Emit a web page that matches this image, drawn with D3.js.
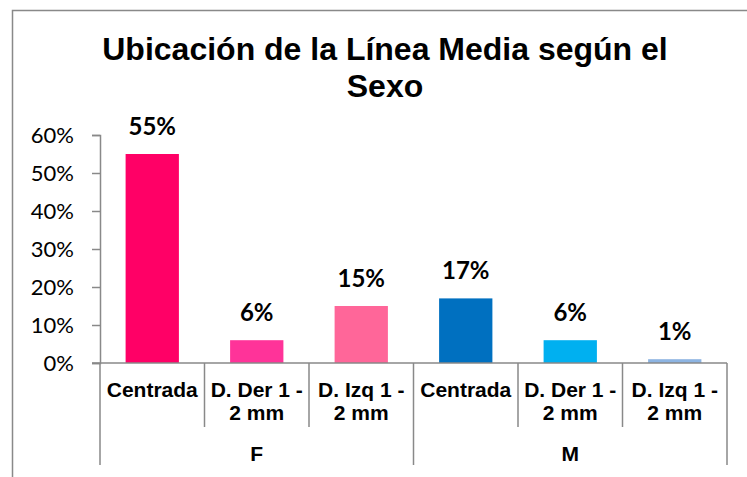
<!DOCTYPE html>
<html>
<head>
<meta charset="utf-8">
<script src="https://cdn.jsdelivr.net/npm/d3@7"></script>
<style>
  body { margin: 0; background: #fff; }
  svg { display: block; }
</style>
</head>
<body>
<svg width="747" height="477"></svg>
<script>
const groups = ['F', 'M'];
const categories = ['Centrada', 'D. Der 1 - 2 mm', 'D. Izq 1 - 2 mm'];
const categoryLines = [['Centrada'], ['D. Der 1 -', '2 mm'], ['D. Izq 1 -', '2 mm']];
const valuesF = [0.55, 0.06, 0.15];
const valuesM = [0.17, 0.06, 0.01];
const colorsF = ['#ff0066', '#ff3399', '#ff6699'];
const colorsM = ['#0070c0', '#00b0f0', '#8db4e2'];
const yTicks = [0, 0.1, 0.2, 0.3, 0.4, 0.5, 0.6];

const rows = [];
groups.forEach((g, gi) => {
  const vals = gi === 0 ? valuesF : valuesM;
  const cols = gi === 0 ? colorsF : colorsM;
  categories.forEach((c, ci) => {
    rows.push({ group: g, cat: c, lines: categoryLines[ci], value: vals[ci], color: cols[ci], key: g + '|' + c });
  });
});

const svg = d3.select('svg');
const axisColor = '#898989';
const plotLeft = 100, plotRight = 727, plotTop = 135, plotBottom = 363;

// chart border
svg.append('path')
  .attr('d', 'M12.5,480 V10.5 H760')
  .attr('fill', 'none')
  .attr('stroke', axisColor)
  .attr('stroke-width', 1.5);

// title
const title = svg.append('text')
  .attr('text-anchor', 'middle')
  .style('font-family', '"Liberation Sans", Arial, sans-serif')
  .style('font-weight', 'bold')
  .style('font-size', '32px')
  .attr('fill', '#000');
title.append('tspan').attr('x', 385).attr('y', 60).text('Ubicación de la Línea Media según el');
title.append('tspan').attr('x', 385).attr('y', 97).text('Sexo');

const x = d3.scaleBand().domain(rows.map((d) => d.key)).range([plotLeft, plotRight]);
const y = d3.scaleLinear().domain([0, 0.6]).range([plotBottom, plotTop]);

// y axis
const yAxis = svg.append('g')
  .attr('transform', `translate(${plotLeft},0)`)
  .call(d3.axisLeft(y).tickValues(yTicks).tickFormat(d3.format('.0%')).tickSize(8).tickPadding(18));
yAxis.select('.domain').attr('stroke', axisColor).attr('stroke-width', 1.5);
yAxis.selectAll('.tick line').attr('stroke', axisColor).attr('stroke-width', 1.5);
yAxis.selectAll('.tick text')
  .style('font-family', 'Lato, "Open Sans", sans-serif')
  .style('font-size', '22px')
  .attr('fill', '#000');

// bars
const bw = x.bandwidth();
svg.append('g').selectAll('rect')
  .data(rows)
  .join('rect')
  .attr('x', (d) => x(d.key) + bw * 0.245)
  .attr('width', bw * 0.51)
  .attr('y', (d) => y(d.value))
  .attr('height', (d) => y(0) - y(d.value))
  .attr('fill', (d) => d.color);

// data labels
svg.append('g').selectAll('text')
  .data(rows)
  .join('text')
  .attr('x', (d) => x(d.key) + bw / 2)
  .attr('y', (d) => y(d.value) - 19)
  .attr('text-anchor', 'middle')
  .style('font-family', 'Lato, "Open Sans", sans-serif')
  .style('font-weight', 'bold')
  .style('font-size', '24px')
  .text((d) => d3.format('.0%')(d.value));

// x axis line
svg.append('line')
  .attr('x1', plotLeft - 8).attr('x2', plotRight)
  .attr('y1', plotBottom).attr('y2', plotBottom)
  .attr('stroke', axisColor).attr('stroke-width', 1.5);

// category dividers
const edges = rows.map((d) => x(d.key)).concat([plotRight]);
svg.append('g').selectAll('line')
  .data(edges)
  .join('line')
  .attr('x1', (d) => d).attr('x2', (d) => d)
  .attr('y1', plotBottom)
  .attr('y2', (d, i) => (i % categories.length === 0 ? 465 : 427))
  .attr('stroke', axisColor).attr('stroke-width', 1.5);

// category labels
const catText = svg.append('g').selectAll('text')
  .data(rows)
  .join('text')
  .attr('text-anchor', 'middle')
  .style('font-family', '"Liberation Sans", Arial, sans-serif')
  .style('font-weight', 'bold')
  .style('font-size', '21px');
catText.selectAll('tspan')
  .data((d) => d.lines.map((l) => ({ l, cx: x(d.key) + bw / 2 })))
  .join('tspan')
  .attr('x', (d) => d.cx)
  .attr('y', (d, i) => 397 + i * 23)
  .text((d) => d.l);

// group labels
svg.append('g').selectAll('text')
  .data(groups)
  .join('text')
  .attr('x', (g, gi) => plotLeft + (gi + 0.5) * bw * categories.length)
  .attr('y', 461)
  .attr('text-anchor', 'middle')
  .style('font-family', '"Liberation Sans", Arial, sans-serif')
  .style('font-weight', 'bold')
  .style('font-size', '21px')
  .text((g) => g);
</script>
</body>
</html>
